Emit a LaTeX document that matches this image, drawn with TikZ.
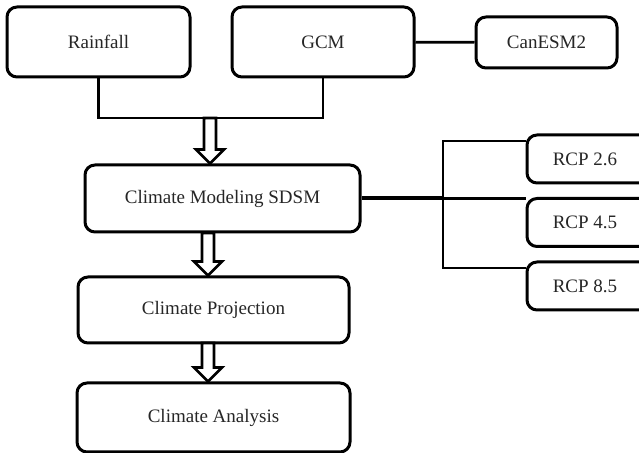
\documentclass[tikz,border=0pt]{standalone}
\usepackage{fontspec}
\setmainfont{Liberation Serif}
\usepackage{tikz}
\usetikzlibrary{positioning, calc}

\newcommand{\hollowarrow}[2]{%
  \draw[arrowline] ($(#1)+(-6,0)$) -- ($(#2)+(-6,-14)$) -- ($(#2)+(-14,-14)$) -- (#2)
    -- ($(#2)+(14,-14)$) -- ($(#2)+(6,-14)$) -- ($(#1)+(6,0)$) -- cycle;}

\begin{document}
\begin{tikzpicture}[x=0.5pt, y=-0.5pt,
    box/.style={draw, rectangle, rounded corners=5pt, line width=1.5pt, fill=white,
      font=\fontsize{9.5}{11}\selectfont, text=black!85, inner sep=0pt},
    rcpbox/.style={box, minimum width=66pt, minimum height=24pt,
      execute at begin node={\hspace*{-8pt}}},
    link/.style={line width=1.4pt},
    arrowline/.style={line width=1.4pt, fill=white, line join=miter}]
      \useasboundingbox (0,0) rectangle (639,453);
      \clip (0,0) rectangle (639,453);

      \node[box, minimum width=91.5pt, minimum height=35pt] (rain) at (98.5, 42) {Rainfall};
      \node[box, minimum width=91pt, minimum height=35pt] (gcm) at (323, 42) {GCM};
      \node[box, minimum width=70.5pt, minimum height=25.5pt] (canesm) at (546.5, 42.5) {CanESM2};
      \node[box, minimum width=137.5pt, minimum height=33.5pt] (sdsm) at (222.5, 198.5) {Climate Modeling SDSM};
      \node[box, minimum width=135.5pt, minimum height=33pt] (proj) at (213.5, 310) {Climate Projection};
      \node[box, minimum width=136.5pt, minimum height=34.5pt] (anal) at (213.5, 417.5) {Climate Analysis};

      \node[rcpbox] (rcp26) at (593, 159) {RCP 2.6};
      \node[rcpbox] (rcp45) at (593, 222.5) {RCP 4.5};
      \node[rcpbox] (rcp85) at (593, 286) {RCP 8.5};

      \coordinate (merge) at (210, 118);
      \coordinate (fork) at (443, 198.5);
      \coordinate (tip1) at (merge |- sdsm.north);
      \coordinate (top2) at (208, 233);
      \coordinate (tip2) at (top2 |- proj.north);
      \coordinate (top3) at (208, 343);
      \coordinate (tip3) at (top3 |- anal.north);

      \draw[link] (gcm) -- (canesm);
      \draw[link] (rain.south) |- (merge) -| (gcm.south);

      \draw[link] (sdsm.east) -- (sdsm.east -| rcp45.west);
      \draw[line width=2pt] (sdsm.east) -- (fork);
      \draw[link] (fork) |- (rcp26.165);
      \draw[link] (fork) |- (rcp85.165);

      \hollowarrow{merge}{tip1}
      \hollowarrow{top2}{tip2}
      \hollowarrow{top3}{tip3}
    \end{tikzpicture}
\end{document}
